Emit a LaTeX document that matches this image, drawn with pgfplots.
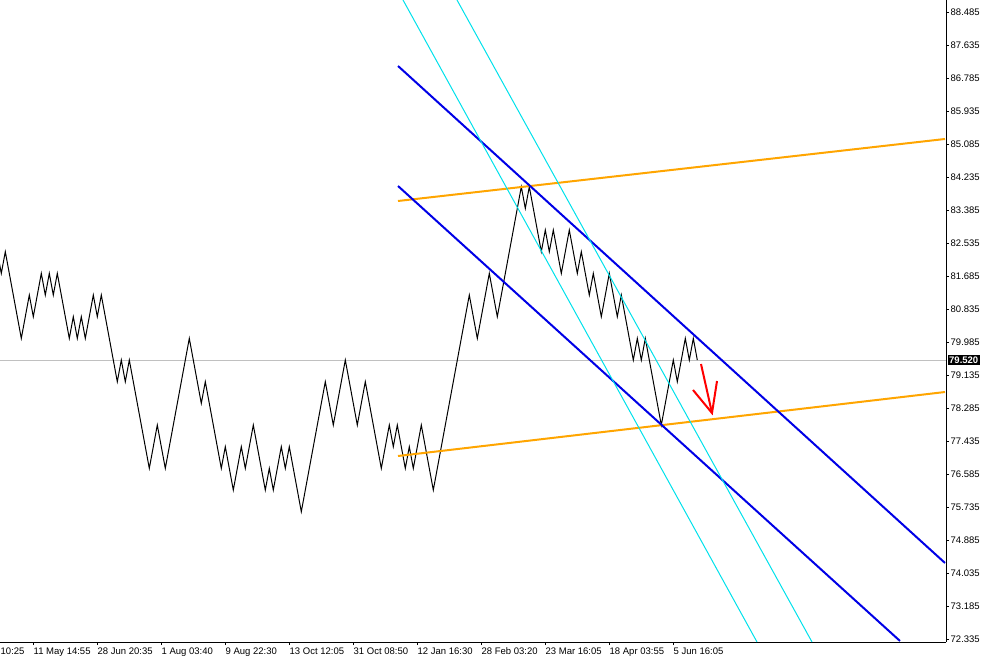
\documentclass[border=0pt]{standalone}
\usepackage{fontspec}
\setmainfont{Liberation Sans}
\usepackage{pgfplots}
\pgfplotsset{compat=1.18}
\definecolor{mtblue}{RGB}{0,0,230}
\definecolor{mtorange}{RGB}{255,165,0}
\definecolor{mtcyan}{RGB}{0,225,235}
\definecolor{mtgray}{RGB}{192,192,192}
\begin{document}
\fontsize{9.5}{11}\selectfont
\begin{tikzpicture}
\useasboundingbox (0pt,-17pt) rectangle (984pt,642pt);
\begin{axis}[
  at={(0pt,0pt)}, anchor=south west,
  scale only axis, width=946pt, height=642pt,
  xmin=0, xmax=946, ymin=72.258, ymax=88.794,
  axis x line=bottom, axis y line=right,
  axis line style={-, line width=1pt, black},
  clip mode=individual,
  tick align=outside, major tick length=3pt,
  tick style={black, line width=0.8pt},
  xtick={33,97,161,225,289,353,417,481,545,609,673},
  xticklabels={11 May 14:55,28 Jun 20:35,1 Aug 03:40,9 Aug 22:30,13 Oct 12:05,31 Oct 08:50,12 Jan 16:30,28 Feb 03:20,23 Mar 16:05,18 Apr 03:55,5 Jun 16:05},
  extra x ticks={0}, extra x tick labels={10:25},
  extra x tick style={major tick style={draw=none}},
  xticklabel style={anchor=north west, inner sep=0pt, yshift=-2.5pt, xshift=0.5pt, font=\fontsize{9.5}{11}\selectfont},
  ytick={72.335,73.185,74.035,74.885,75.735,76.585,77.435,78.285,79.135,79.985,80.835,81.685,82.535,83.385,84.235,85.085,85.935,86.785,87.635,88.485},
  yticklabels={72.335,73.185,74.035,74.885,75.735,76.585,77.435,78.285,79.135,79.985,80.835,81.685,82.535,83.385,84.235,85.085,85.935,86.785,87.635,88.485},
  yticklabel style={anchor=west, inner sep=0pt, xshift=1.5pt, font=\fontsize{9.5}{11}\selectfont},
]
% current price line
\addplot[mtgray, line width=1pt] coordinates {(0,79.52) (946,79.52)};
% price path
\addplot[black, line width=1pt, line join=miter] coordinates {
(-2.7,82.310) (1.3,81.752) (5.3,82.310) (21.3,80.078) (29.3,81.194) (33.3,80.636)
(41.3,81.752) (45.3,81.194) (49.3,81.752) (53.3,81.194) (57.3,81.752) (69.3,80.078)
(73.3,80.636) (77.3,80.078) (81.3,80.636) (85.3,80.078) (93.3,81.194) (97.3,80.636)
(101.3,81.194) (117.3,78.962) (121.3,79.520) (125.3,78.962) (129.3,79.520) (149.3,76.730)
(157.3,77.846) (165.3,76.730) (189.3,80.078) (201.3,78.404) (205.3,78.962) (221.3,76.730)
(225.3,77.288) (233.3,76.172) (241.3,77.288) (245.3,76.730) (249.3,77.288) (253.3,77.846)
(265.3,76.172) (269.3,76.730) (273.3,76.172) (281.3,77.288) (285.3,76.730) (289.3,77.288)
(301.3,75.614) (325.3,78.962) (333.3,77.846) (345.3,79.520) (357.3,77.846) (365.3,78.962)
(381.3,76.730) (389.3,77.846) (393.3,77.288) (397.3,77.846) (405.3,76.730) (409.3,77.288)
(413.3,76.730) (421.3,77.846) (433.3,76.172) (469.3,81.194) (477.3,80.078) (489.3,81.752)
(497.3,80.636) (521.3,83.984) (525.3,83.426) (529.3,83.984) (541.3,82.310) (545.3,82.868)
(549.3,82.310) (553.3,82.868) (561.3,81.752) (569.3,82.868) (577.3,81.752) (581.3,82.310)
(589.3,81.194) (593.3,81.752) (601.3,80.636) (609.3,81.752) (617.3,80.636) (621.3,81.194)
(633.3,79.520) (637.3,80.078) (641.3,79.520) (645.3,80.078) (661.3,77.846) (673.3,79.520)
(677.3,78.962) (685.3,80.078) (689.3,79.520) (693.3,80.078) (697.3,79.520)
};
% orange lines
\addplot[mtorange, line width=2pt] coordinates {(398,83.617) (945,85.214)};
\addplot[mtorange, line width=2pt] coordinates {(398,77.049) (945,78.697)};
% blue channel
\addplot[mtblue, line width=2pt] coordinates {(398,87.094) (945,74.293)};
\addplot[mtblue, line width=2pt] coordinates {(398,84.003) (900,72.284)};
% cyan lines
\addplot[mtcyan, line width=1pt] coordinates {(403,88.794) (757,72.258)};
\addplot[mtcyan, line width=1pt] coordinates {(457,88.794) (812,72.258)};
% red arrow
\addplot[red, line width=2pt] coordinates {(701,79.418) (712,78.156)};
\addplot[red, line width=2pt] coordinates {(693,78.749) (712,78.156) (717,78.980)};
% price label
\node[fill=black, text=white, anchor=west, inner sep=1.5pt, xshift=1.5pt, font=\fontsize{9.5}{10}\selectfont\bfseries] at (axis cs:946,79.52) {79.520};
\end{axis}
\end{tikzpicture}
\end{document}
